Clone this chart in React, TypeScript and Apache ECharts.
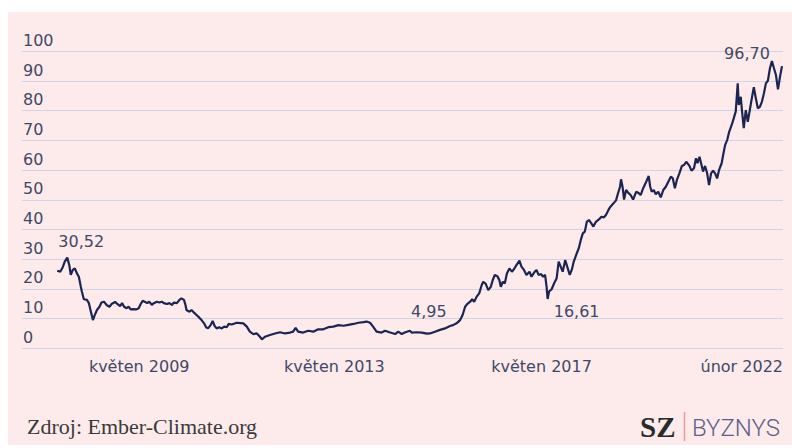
import React, { useEffect, useRef } from "react";
import * as echarts from "echarts";

// x positions as decimal years
const years: number[] = [
  2007.70, 2007.76, 2007.81, 2007.85, 2007.90, 2007.94, 2007.97, 2008.01, 2008.05, 2008.09,
  2008.13, 2008.17, 2008.19, 2008.23, 2008.29, 2008.33, 2008.37, 2008.41, 2008.44, 2008.49,
  2008.54, 2008.58, 2008.63, 2008.68, 2008.74, 2008.78, 2008.85, 2008.90, 2008.95, 2008.99,
  2009.03, 2009.08, 2009.12, 2009.16, 2009.21, 2009.27, 2009.32, 2009.36, 2009.40, 2009.45,
  2009.49, 2009.53, 2009.58, 2009.62, 2009.68, 2009.73, 2009.78, 2009.82, 2009.88, 2009.93,
  2009.98, 2010.02, 2010.08, 2010.13, 2010.17, 2010.22, 2010.25, 2010.27, 2010.33, 2010.37,
  2010.42, 2010.47, 2010.52, 2010.57, 2010.62, 2010.66, 2010.70, 2010.75, 2010.79, 2010.83,
  2010.87, 2010.92, 2010.97, 2011.02, 2011.07, 2011.11, 2011.17, 2011.27, 2011.40, 2011.47,
  2011.53, 2011.60, 2011.67, 2011.73, 2011.77, 2011.83, 2011.93, 2012.03, 2012.13, 2012.23,
  2012.33, 2012.39, 2012.44, 2012.49, 2012.59, 2012.69, 2012.79, 2012.89, 2012.99, 2013.09,
  2013.19, 2013.29, 2013.39, 2013.49, 2013.59, 2013.69, 2013.79, 2013.85, 2013.92, 2013.98,
  2014.05, 2014.15, 2014.22, 2014.32, 2014.42, 2014.48, 2014.55, 2014.61, 2014.71, 2014.75,
  2014.85, 2014.95, 2015.05, 2015.11, 2015.21, 2015.31, 2015.41, 2015.51, 2015.57, 2015.64,
  2015.71, 2015.76, 2015.81, 2015.85, 2015.91, 2015.95, 2015.99, 2016.04, 2016.09, 2016.14,
  2016.17, 2016.22, 2016.27, 2016.32, 2016.36, 2016.40, 2016.45, 2016.49, 2016.52, 2016.56,
  2016.60, 2016.64, 2016.69, 2016.74, 2016.78, 2016.83, 2016.89, 2016.93, 2016.98, 2017.03,
  2017.09, 2017.13, 2017.18, 2017.23, 2017.27, 2017.32, 2017.36, 2017.40, 2017.43, 2017.45,
  2017.48, 2017.53, 2017.58, 2017.63, 2017.67, 2017.71, 2017.75, 2017.80, 2017.84, 2017.89,
  2017.93, 2017.97, 2018.03, 2018.07, 2018.11, 2018.15, 2018.19, 2018.23, 2018.27, 2018.31,
  2018.36, 2018.41, 2018.47, 2018.52, 2018.57, 2018.61, 2018.66, 2018.70, 2018.76, 2018.81,
  2018.85, 2018.89, 2018.91, 2018.94, 2018.97, 2019.01, 2019.05, 2019.10, 2019.15, 2019.21,
  2019.25, 2019.30, 2019.35, 2019.41, 2019.46, 2019.49, 2019.52, 2019.56, 2019.60, 2019.65,
  2019.70, 2019.75, 2019.80, 2019.85, 2019.90, 2019.94, 2019.98, 2020.02, 2020.07, 2020.12,
  2020.16, 2020.21, 2020.27, 2020.31, 2020.36, 2020.40, 2020.43, 2020.47, 2020.51, 2020.54,
  2020.58, 2020.62, 2020.66, 2020.70, 2020.74, 2020.78, 2020.82, 2020.86, 2020.91, 2020.94,
  2020.98, 2021.02, 2021.06, 2021.11, 2021.15, 2021.19, 2021.23, 2021.25, 2021.29, 2021.31,
  2021.35, 2021.39, 2021.43, 2021.47, 2021.51, 2021.55, 2021.59, 2021.63, 2021.67, 2021.71,
  2021.75, 2021.79, 2021.83, 2021.87, 2021.91, 2021.95, 2021.99, 2022.03, 2022.07, 2022.11,
];

const prices: number[] = [
  26.1, 25.8, 27.3, 29.2, 30.52, 28.0, 24.7, 26.4, 26.9, 25.3,
  24.1, 20.7, 19.1, 16.5, 16.3, 15.2, 12.3, 9.5, 10.9, 12.9,
  14.0, 15.4, 15.7, 14.6, 14.0, 14.9, 15.6, 14.9, 14.2, 15.2,
  14.0, 13.5, 14.0, 13.1, 13.2, 13.1, 13.5, 14.9, 16.0, 15.6,
  15.2, 15.7, 14.6, 15.2, 15.7, 15.4, 15.7, 15.2, 14.9, 15.2,
  14.6, 15.4, 15.2, 16.3, 16.8, 16.3, 14.6, 12.9, 12.3, 12.9,
  12.0, 11.2, 10.4, 9.5, 8.4, 7.1, 6.7, 7.8, 9.2, 7.5,
  6.7, 7.1, 6.7, 7.3, 7.1, 8.2, 8.0, 8.6, 8.4, 7.3,
  5.6, 4.8, 5.0, 3.9, 3.0, 3.9, 4.5, 5.0, 5.4, 5.0,
  5.3, 5.6, 6.9, 5.6, 5.3, 5.9, 5.6, 6.4, 6.4, 7.1,
  7.3, 7.8, 7.6, 7.9, 8.2, 8.6, 8.8, 9.0, 8.6, 7.3,
  5.6, 5.3, 5.9, 5.3, 4.8, 5.6, 4.8, 5.3, 5.9, 5.3,
  5.4, 5.3, 4.95, 5.0, 5.6, 6.2, 6.7, 7.5, 7.8, 8.4,
  9.5, 11.2, 14.0, 14.9, 15.7, 16.5, 15.7, 17.4, 18.5, 21.3,
  22.4, 21.7, 19.6, 20.7, 23.0, 24.7, 24.3, 23.0, 20.7, 22.4,
  21.9, 25.2, 26.9, 25.8, 26.6, 28.0, 29.5, 27.5, 26.4, 24.7,
  25.8, 24.1, 25.5, 26.4, 24.7, 25.0, 24.1, 24.7, 20.7, 16.61,
  19.1, 19.9, 21.9, 23.6, 29.2, 27.5, 25.8, 29.7, 27.5, 24.7,
  26.4, 29.2, 32.0, 33.7, 36.5, 38.7, 39.3, 42.6, 43.2, 42.3,
  41.0, 42.6, 43.4, 44.3, 44.1, 44.9, 46.6, 47.7, 48.8, 49.8,
  52.2, 54.4, 56.9, 54.4, 50.1, 53.3, 52.4, 51.6, 50.1, 52.7,
  52.4, 51.6, 53.9, 56.1, 58.0, 54.4, 52.7, 53.3, 51.9, 52.7,
  50.8, 53.3, 54.4, 56.1, 57.8, 57.2, 53.9, 56.7, 58.9, 61.4,
  61.7, 62.8, 61.4, 59.8, 60.6, 64.0, 62.3, 64.5, 61.7, 59.5,
  61.4, 59.1, 55.0, 58.9, 59.8, 58.9, 57.2, 60.1, 62.3, 65.1,
  68.5, 70.1, 72.9, 75.2, 77.4, 79.7, 89.2, 81.9, 84.7, 80.8,
  74.1, 80.2, 76.3, 80.2, 84.2, 87.9, 84.2, 80.8, 81.3, 83.0,
  85.8, 89.2, 90.1, 94.3, 96.7, 94.3, 92.0, 87.2, 91.4, 95.0,
];

const xTickValues: number[] = [2009.33, 2013.21, 2017.33, 2022.13];
const xTickLabels: string[] = ["květen 2009", "květen 2013", "květen 2017", "únor 2022"];

const annotYears: number[] = [2007.90, 2015.05, 2017.45, 2021.91];
const annotValues: number[] = [30.52, 4.95, 16.61, 96.7];
const annotTexts: string[] = ["30,52", "4,95", "16,61", "96,70"];

const BG = "#fcebea";
const TXT = "#434766";
const FONT = "DejaVu Sans";

export default function App() {
  const ref = useRef<HTMLDivElement>(null);
  useEffect(() => {
    if (!ref.current) return;
    const chart = echarts.init(ref.current, null, { renderer: "svg" });
    const annotOffsets: number[][] = [[14, -16], [2, -22], [29, 13], [-25, -8]];
    chart.setOption({
      animation: false,
      backgroundColor: BG,
      grid: { left: 14, right: 9, top: 39.3, bottom: 96.7, containLabel: false },
      xAxis: {
        type: "value",
        min: 2007,
        max: 2022.13,
        splitLine: { show: false },
        axisLine: { show: false },
        axisTick: { show: false },
        axisLabel: {
          customValues: xTickValues,
          formatter: (v: number) => {
            const i = xTickValues.findIndex((t) => Math.abs(t - v) < 0.001);
            return i >= 0 ? xTickLabels[i] : "";
          },
          alignMaxLabel: "right",
          margin: 10,
          color: TXT,
          fontFamily: FONT,
          fontSize: 16,
        },
      },
      yAxis: {
        type: "value",
        min: 0,
        max: 100,
        interval: 10,
        axisLine: { show: false },
        axisTick: { show: false },
        splitLine: { lineStyle: { color: "#d0d3e6", width: 1.2 } },
        axisLabel: {
          inside: true,
          margin: 1,
          verticalAlign: "bottom",
          padding: [0, 0, 3, 0],
          color: TXT,
          fontFamily: FONT,
          fontSize: 16,
        },
      },
      series: [
        {
          type: "line",
          data: years.map((y, i) => [y, prices[i]]),
          showSymbol: false,
          lineStyle: { color: "#1c2452", width: 2.2 },
          itemStyle: { color: "#1c2452" },
          markPoint: {
            symbol: "circle",
            symbolSize: 0,
            label: { show: true, color: TXT, fontFamily: FONT, fontSize: 16 },
            data: annotYears.map((y, i) => ({
              coord: [y, annotValues[i]],
              label: { show: true, position: "inside", formatter: annotTexts[i], offset: annotOffsets[i] },
            })),
          },
        },
      ],
      graphic: [
        {
          type: "text",
          x: 19,
          y: 414,
          style: {
            text: "Zdroj: Ember-Climate.org",
            font: "22px 'Liberation Serif'",
            fill: "#3a3a3a",
            verticalAlign: "middle",
            textVerticalAlign: "middle",
          },
        },
        {
          type: "text",
          x: 632,
          y: 415,
          style: {
            text: "SZ",
            font: "bold 29px 'Liberation Serif'",
            fill: "#2a2a2a",
            verticalAlign: "middle",
            textVerticalAlign: "middle",
          },
        },
        {
          type: "line",
          shape: { x1: 676.5, y1: 400, x2: 676.5, y2: 429 },
          style: { stroke: "#e69a9a", lineWidth: 1.5 },
        },
        {
          type: "text",
          x: 684,
          y: 416,
          style: {
            text: "BYZNYS",
            font: "300 24px Roboto",
            fill: "#5b6088",
            verticalAlign: "middle",
            textVerticalAlign: "middle",
          },
        },
      ],
    });
    return () => chart.dispose();
  }, []);
  return (
    <div
      ref={ref}
      style={{ position: "absolute", left: 8, top: 12, width: 784, height: 433, background: BG }}
    />
  );
}
